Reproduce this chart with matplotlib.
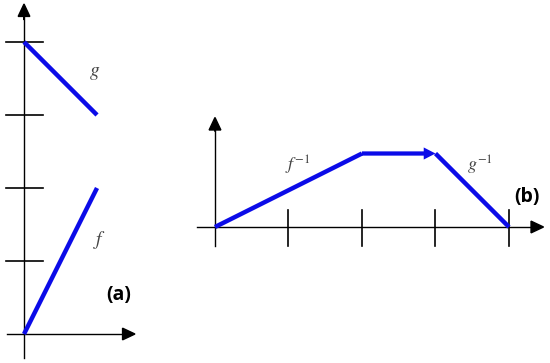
import matplotlib.pyplot as plt

plt.rcParams['mathtext.fontset'] = 'stix'

# panel (a): f and g
a_ticks = [1, 2, 3, 4]
g_x = [0, 1]
g_y = [4, 3]
f_x = [0, 1]
f_y = [0, 2]

# panel (b): inverses
b_ticks = [1, 2, 3, 4]
finv_x = [0, 2]
finv_y = [0, 1]
flat_x = [2, 3]
flat_y = [1, 1]
ginv_x = [3, 4]
ginv_y = [1, 0]

blue = '#0b0be8'
fig = plt.figure(figsize=(5.5, 3.63), dpi=100)

# ---- (a)
ax = fig.add_axes([0, 0, 150 / 550, 1])
ax.set_xlim(-0.329, 1.726)
ax.set_ylim(-0.397, 4.575)
ax.axis('off')
ax.plot([0, 0], [-0.33, 4.35], color='black', lw=1)
ax.arrow(0, 4.3, 0, 0.22, width=0.0, head_width=0.16, head_length=0.17,
         length_includes_head=True, color='black')
ax.plot([-0.23, 1.38], [0, 0], color='black', lw=1)
ax.arrow(1.35, 0, 0.17, 0, width=0.0, head_width=0.16, head_length=0.17,
         length_includes_head=True, color='black')
for t in a_ticks:
    ax.plot([-0.24, 0.26], [t, t], color='black', lw=1.2)
ax.plot(g_x, g_y, color=blue, lw=3.2, solid_capstyle='butt')
ax.plot(f_x, f_y, color=blue, lw=3.2, solid_capstyle='butt')
ax.text(0.97, 3.58, '$g$', fontsize=14, ha='center', va='center', color='#444444')
ax.text(1.04, 1.29, '$f$', fontsize=14, ha='center', va='center', color='#444444')
ax.text(1.30, 0.53, '(a)', fontsize=14, fontweight='bold', family='Open Sans',
        ha='center', va='center')

# ---- (b)
bx = fig.add_axes([190 / 550, 103 / 363, 360 / 550, 160 / 363])
bx.set_xlim(-0.340, 4.558)
bx.set_ylim(-0.449, 1.728)
bx.axis('off')
bx.plot([0, 0], [-0.26, 1.35], color='black', lw=1)
bx.arrow(0, 1.3, 0, 0.19, width=0.0, head_width=0.16, head_length=0.17,
         length_includes_head=True, color='black')
bx.plot([-0.245, 4.35], [0, 0], color='black', lw=1)
bx.arrow(4.3, 0, 0.17, 0, width=0.0, head_width=0.16, head_length=0.17,
         length_includes_head=True, color='black')
for t in b_ticks:
    bx.plot([t, t], [-0.26, 0.23], color='black', lw=1.2)
bx.plot(finv_x, finv_y, color=blue, lw=3.2, solid_capstyle='butt')
bx.arrow(flat_x[0], flat_y[0], flat_x[1] - flat_x[0], flat_y[1] - flat_y[0],
         width=0.058, head_width=0.165, head_length=0.16,
         length_includes_head=True, color=blue, lw=0)
bx.plot(ginv_x, ginv_y, color=blue, lw=3.2, solid_capstyle='butt')
bx.text(1.13, 0.84, '$f^{-1}$', fontsize=13, ha='center', va='center', color='#444444')
bx.text(3.61, 0.84, '$g^{-1}$', fontsize=13, ha='center', va='center', color='#444444')
bx.text(4.245, 0.41, '(b)', fontsize=14, fontweight='bold', family='Open Sans',
        ha='center', va='center')

fig.savefig('out.png', dpi=100)
